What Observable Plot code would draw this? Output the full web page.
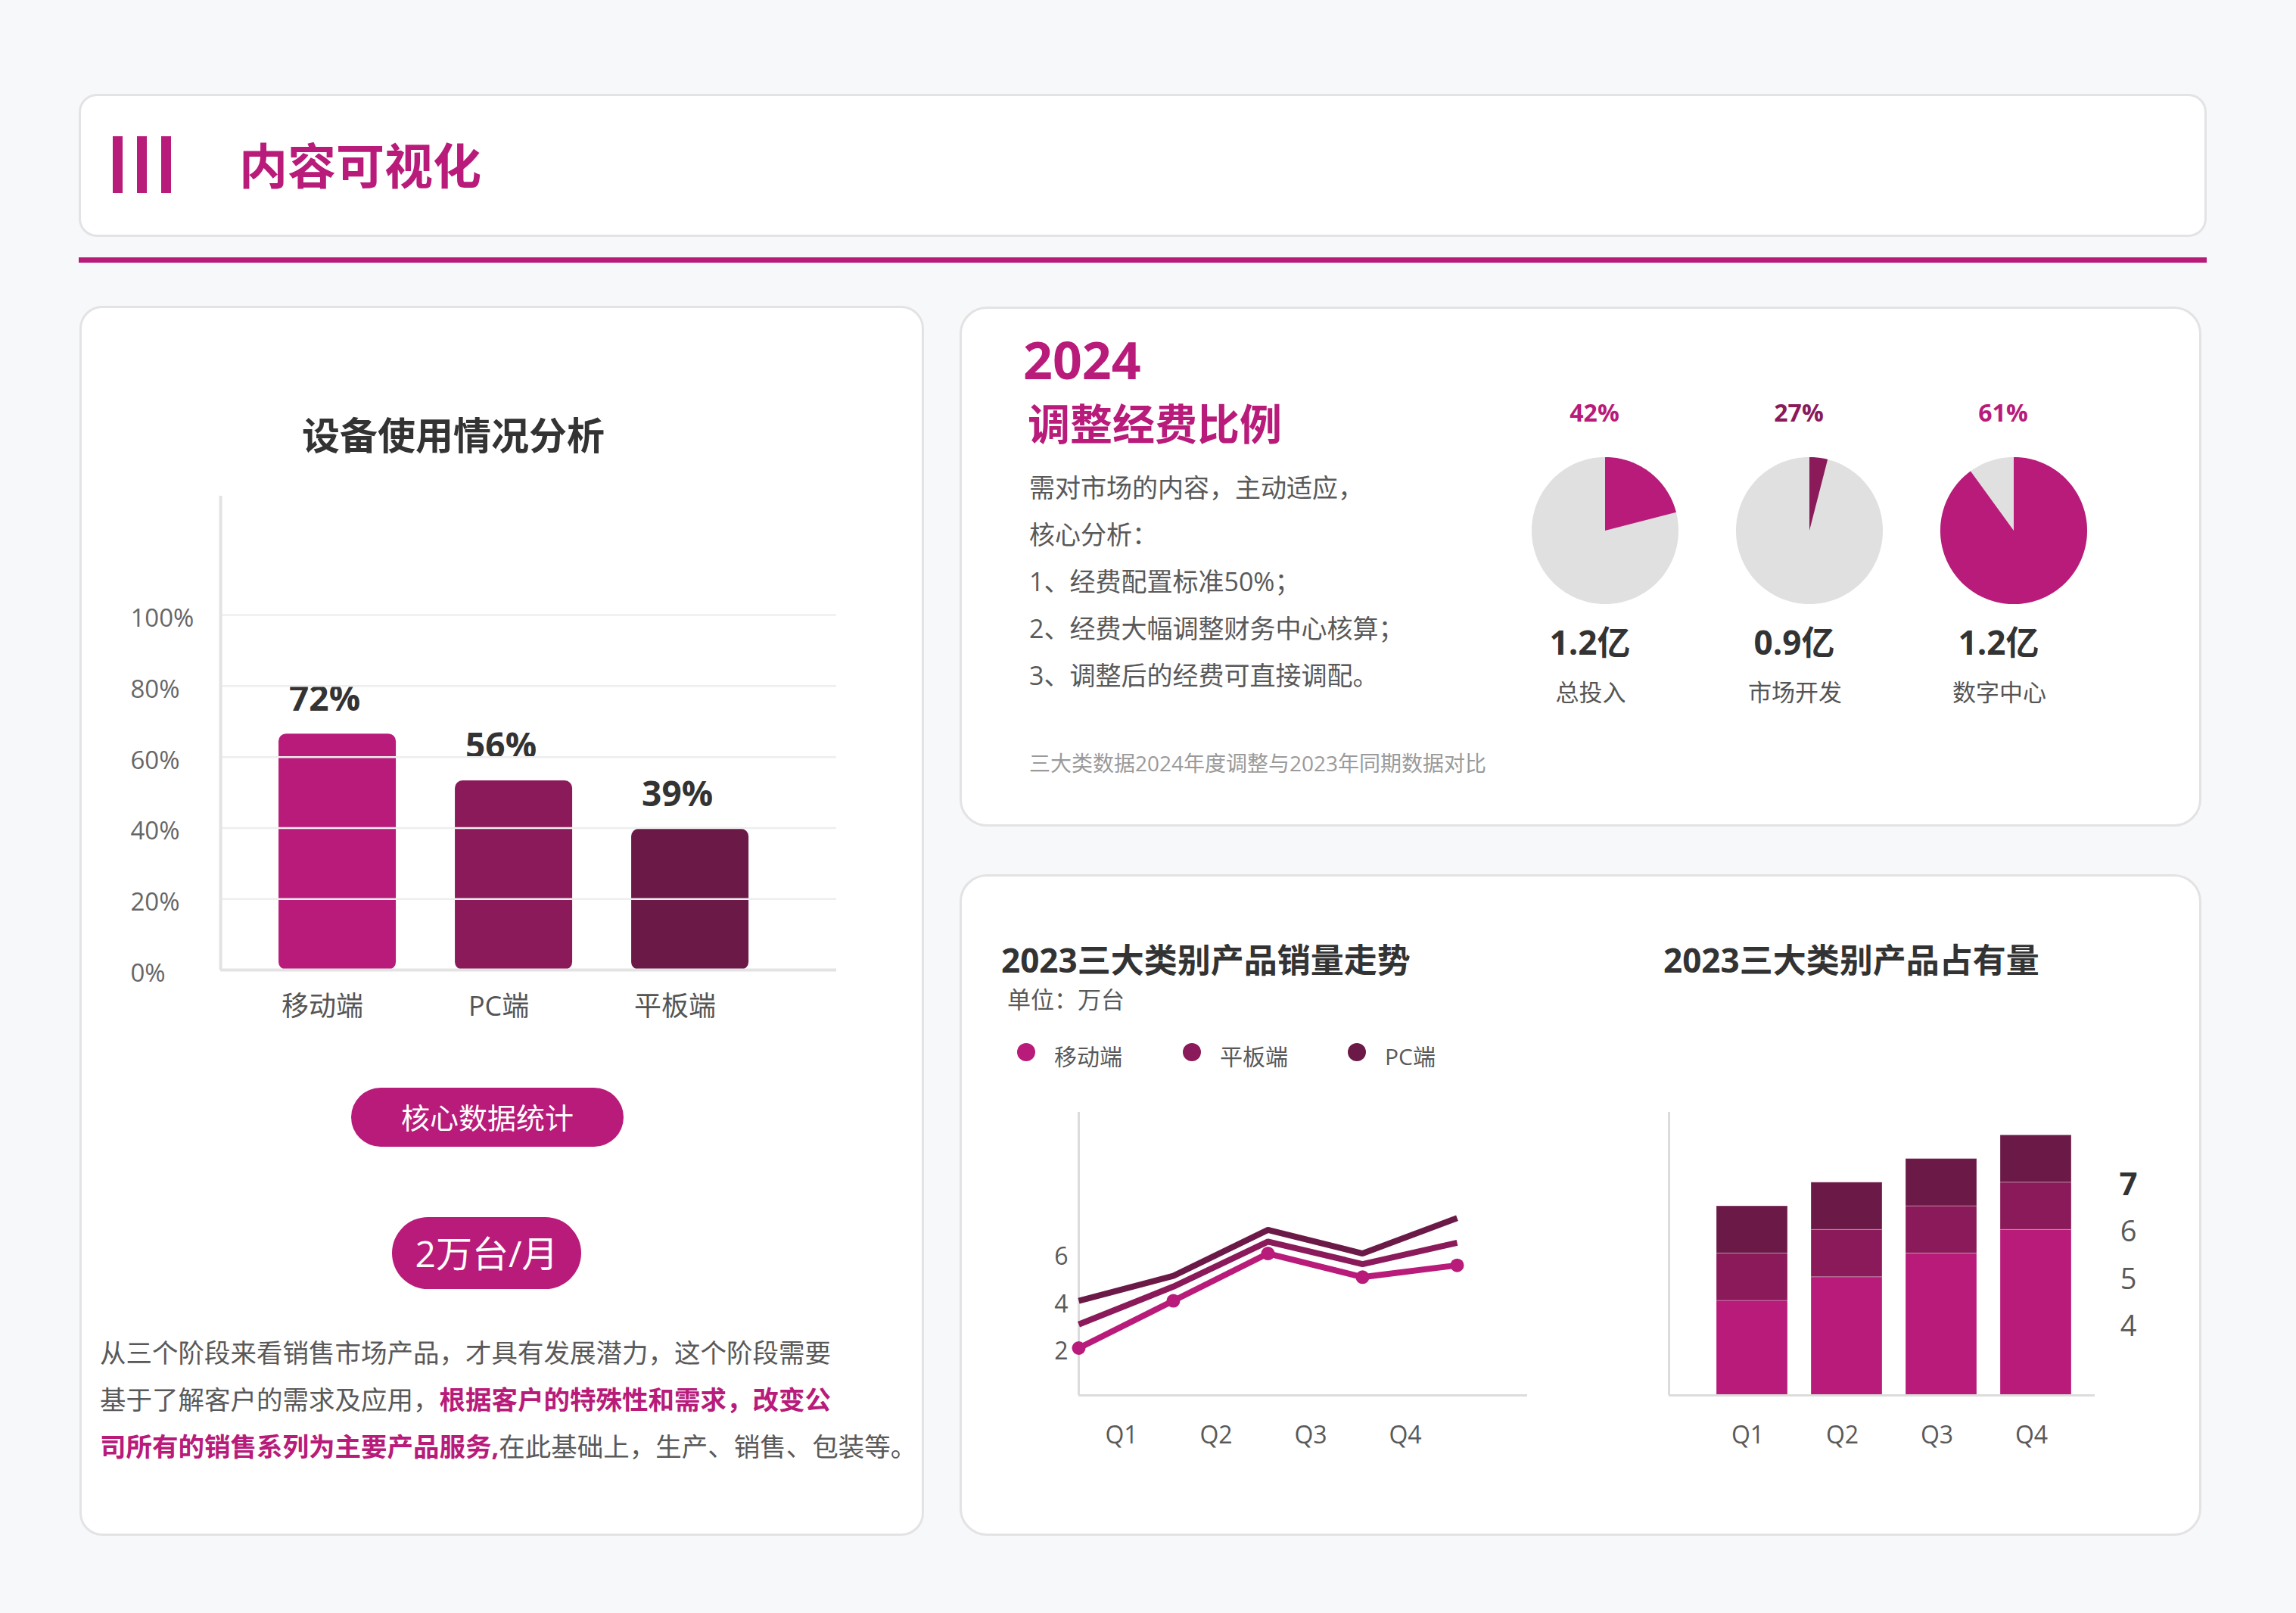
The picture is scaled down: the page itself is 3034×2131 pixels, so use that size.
<!DOCTYPE html>
<html><head><meta charset="utf-8">
<script src="https://cdn.jsdelivr.net/npm/d3@7"></script>
<script src="https://cdn.jsdelivr.net/npm/@observablehq/plot@0.6"></script>
<style>
html,body{margin:0;padding:0;}
body{width:3034px;height:2131px;background:#f7f8fa;position:relative;overflow:hidden;font-family:"Open Sans","Noto Sans CJK SC",sans-serif;color:#333;}
.card{position:absolute;background:#fff;border:3px solid #e3e3e5;box-sizing:border-box;}
.t{position:absolute;white-space:nowrap;line-height:1;}
.pill{position:absolute;background:#B81B7A;color:#fff;display:flex;align-items:center;justify-content:center;line-height:1;white-space:nowrap;}
.plot{position:absolute;}
.plot svg{overflow:visible;}
.dot{position:absolute;width:24px;height:24px;border-radius:50%;}
.hl{color:#B81B7A;font-weight:700;}
</style></head><body>

<div class="card" style="left:104px;top:124px;width:2812px;height:189px;border-radius:24px;"></div>
<div style="position:absolute;left:149px;top:180px;width:13px;height:75px;background:#B81B7A"></div>
<div style="position:absolute;left:181px;top:180px;width:13px;height:75px;background:#B81B7A"></div>
<div style="position:absolute;left:213px;top:180px;width:13px;height:75px;background:#B81B7A"></div>
<div class="t" style="left:316px;top:187px;font-size:64px;font-weight:700;color:#B81B7A;">内容可视化</div>
<div style="position:absolute;left:104px;top:340px;width:2812px;height:7px;background:#B81B7A"></div>

<div class="card" style="left:105px;top:404px;width:1116px;height:1625px;border-radius:30px;"></div>
<div class="card" style="left:1268px;top:405px;width:1641px;height:687px;border-radius:36px;"></div>
<div class="card" style="left:1268px;top:1155px;width:1641px;height:874px;border-radius:36px;"></div>

<div class="t" style="left:199px;width:800px;text-align:center;top:550px;font-size:50px;font-weight:700;color:#333;">设备使用情况分析</div>
<div id="plotA" class="plot" style="left:172px;top:595px;"></div>
<div class="pill" style="left:464px;top:1437px;width:360px;height:78px;border-radius:39px;font-size:38px;">核心数据统计</div>
<div class="pill" style="left:518px;top:1608px;width:250px;height:95px;border-radius:48px;font-size:48px;">2万台/月</div>
<div style="position:absolute;left:132px;top:1756px;font-size:34.5px;line-height:62px;color:#595959;white-space:nowrap;">从三个阶段来看销售市场产品，才具有发展潜力，这个阶段需要<br>基于了解客户的需求及应用，<span class="hl">根据客户的特殊性和需求，改变公</span><br><span class="hl">司所有的销售系列为主要产品服务,</span>在此基础上，生产、销售、包装等。</div>

<div class="t" style="left:1352px;top:441px;font-size:68px;font-weight:700;color:#B81B7A;">2024</div>
<div class="t" style="left:1358px;top:531px;font-size:56px;font-weight:700;color:#B81B7A;">调整经费比例</div>
<div style="position:absolute;left:1360px;top:613px;font-size:34px;line-height:62px;color:#595959;white-space:nowrap;">需对市场的内容，主动适应，<br>核心分析：<br>1、经费配置标准50%；<br>2、经费大幅调整财务中心核算；<br>3、调整后的经费可直接调配。</div>
<div class="t" style="left:1360px;top:994px;font-size:28px;color:#9a9a9a;">三大类数据2024年度调整与2023年同期数据对比</div>
<div id="plotB" class="plot" style="left:1975px;top:516px;"></div>

<div class="t" style="left:1323px;top:1246px;font-size:44px;font-weight:700;color:#333;">2023三大类别产品销量走势</div>
<div class="t" style="left:1331px;top:1305px;font-size:31px;color:#595959;">单位：万台</div>
<div id="legend"></div>
<div id="plotC" class="plot" style="left:1380px;top:1449px;"></div>
<div class="t" style="left:2198px;top:1246px;font-size:44px;font-weight:700;color:#333;">2023三大类别产品占有量</div>
<div id="plotD" class="plot" style="left:2205px;top:1449px;"></div>

<script>
// ---------- data ----------
const deviceCategories = ["移动端", "PC端", "平板端"];
const deviceShare = [66.5, 53.3, 39.7];          // bar heights as drawn
const deviceLabels = ["72%", "56%", "39%"];       // printed labels
const shareTicks = [0, 20, 40, 60, 80, 100];

const budgetCategories = ["总投入", "市场开发", "数字中心"];
const budgetShare = [21, 4, 90];                  // slice sizes as drawn
const budgetPercentLabels = ["42%", "27%", "61%"];
const budgetAmounts = ["1.2亿", "0.9亿", "1.2亿"];

const quarters = ["Q1", "Q2", "Q3", "Q4"];
const seriesNames = ["移动端", "平板端", "PC端"];
const salesMobile = [2.0, 4.0, 6.0, 5.0, 5.5];
const salesTablet = [3.0, 4.6, 6.5, 5.55, 6.45];
const salesPC = [4.0, 5.05, 7.0, 6.0, 7.5];
const salesTicks = [2, 4, 6];

const holdMobile = [4, 5, 6, 7];
const holdTablet = [2, 2, 2, 2];
const holdPC = [2, 2, 2, 2];
const holdSideLabels = [4, 5, 6, 7];

// ---------- styles ----------
const MAG = "#B81B7A", MID = "#8A1A59", DARK = "#6B1A48";
const FONT = '"Open Sans","Noto Sans CJK SC",sans-serif';
const baseStyle = {background: "transparent", fontFamily: FONT, overflow: "visible"};

// ---------- A: device bars ----------
const devData = deviceCategories.map((c, i) => ({cat: c, i, v: deviceShare[i], label: deviceLabels[i]}));
const A = Plot.plot({
  width: 943, height: 766, marginLeft: 0, marginRight: 10, marginTop: 60, marginBottom: 80,
  x: {domain: [-0.674, 3.33], axis: null},
  y: {domain: [0, 133.5], axis: null},
  color: {domain: deviceCategories, range: [MAG, MID, DARK]},
  style: baseStyle,
  marks: [
    Plot.rectY(devData, {x1: "i", x2: d => d.i + 1, y: "v", fill: "cat", insetLeft: 39, insetRight: 39, rx: 10}),
    Plot.text(devData, {x: d => d.i + 0.5, y: "v", text: "label", dx: -17, dy: -45, fontSize: 46, fontWeight: 700, fill: "#333"}),
    Plot.ruleY(shareTicks.filter(d => d > 0), {x1: -0.163, x2: 3.33, stroke: "#eeeeee", strokeWidth: 2.5}),
    Plot.ruleX([-0.163], {y1: 0, y2: 133.5, stroke: "#e3e3e3", strokeWidth: 4}),
    Plot.ruleY([0], {x1: -0.163, x2: 3.33, stroke: "#e3e3e3", strokeWidth: 4}),
    Plot.text(shareTicks, {x: -0.674, y: d => d, text: d => d + "%", textAnchor: "start", dy: 5, fontSize: 33, fill: "#666"}),
    Plot.text(devData, {x: d => d.i + 0.5, y: 0, text: "cat", dx: -20, dy: 49, fontSize: 36, fill: "#555"})
  ]
});
document.getElementById("plotA").appendChild(A);

// ---------- B: pies ----------
const SP = 2.7835;
const pieColors = [MAG, MID, MAG];
const piePts = [];
const N = 240;
budgetShare.forEach((v, i) => {
  const cx = i * SP;
  for (let k = 0; k <= N; k++) {
    const a = 2 * Math.PI * k / N;
    piePts.push({key: "bg" + i, color: "#e0e0e0", x: cx + Math.sin(a), y: Math.cos(a)});
  }
  const arc = d3.pie().sort(null)([v, 100 - v])[0];
  const n = Math.max(2, Math.ceil((arc.endAngle - arc.startAngle) / (2 * Math.PI) * N));
  piePts.push({key: "s" + i, color: pieColors[i], x: cx, y: 0});
  for (let k = 0; k <= n; k++) {
    const a = arc.startAngle + (arc.endAngle - arc.startAngle) * k / n;
    piePts.push({key: "s" + i, color: pieColors[i], x: cx + Math.sin(a), y: Math.cos(a)});
  }
});
const budgetData = budgetCategories.map((c, i) => ({c, x: i * SP, pct: budgetPercentLabels[i], amt: budgetAmounts[i], color: pieColors[i]}));
const B = Plot.plot({
  width: 831, height: 437, margin: 0,
  x: {domain: [-1.5, 2 * SP + 1.5], axis: null},
  y: {domain: [-2.6, 1.9], axis: null},
  color: {type: "identity"},
  style: baseStyle,
  marks: [
    Plot.line(piePts, {x: "x", y: "y", z: "key", fill: "color", stroke: "none", curve: "linear"}),
    Plot.text(budgetData, {x: "x", y: 0, text: "pct", fill: "color", dx: -14, dy: -154, fontSize: 32, fontWeight: 700}),
    Plot.text(budgetData, {x: "x", y: 0, text: "amt", fill: "#333", dx: -20, dy: 150, fontSize: 44, fontWeight: 700}),
    Plot.text(budgetData, {x: "x", y: 0, text: "c", fill: "#555", dx: -19, dy: 215, fontSize: 31})
  ]
});
document.getElementById("plotB").appendChild(B);

// ---------- legend ----------
const legendColors = [MAG, MID, DARK];
const legendX = [1344, 1563, 1781];
const lg = document.getElementById("legend");
seriesNames.forEach((s, i) => {
  const d = document.createElement("div");
  d.className = "dot"; d.style.left = legendX[i] + "px"; d.style.top = "1378px"; d.style.background = legendColors[i];
  lg.appendChild(d);
  const t = document.createElement("div");
  t.className = "t"; t.textContent = s; t.style.left = (legendX[i] + 49) + "px"; t.style.top = "1381px";
  t.style.fontSize = "30px"; t.style.color = "#595959";
  lg.appendChild(t);
});

// ---------- C: sales lines ----------
const salesSeries = [salesMobile, salesTablet, salesPC];
const lineData = seriesNames.flatMap((s, si) => salesSeries[si].map((v, i) => ({s, i, v})));
const C = Plot.plot({
  width: 638, height: 474, marginLeft: 0, marginRight: 0, marginTop: 20, marginBottom: 80,
  x: {domain: [-0.36, 4.744], axis: null},
  y: {domain: [0, 11.97], axis: null},
  color: {domain: seriesNames, range: [MAG, MID, DARK]},
  style: baseStyle,
  marks: [
    Plot.ruleX([0], {y1: 0, y2: 11.97, stroke: "#dcdcdc", strokeWidth: 3}),
    Plot.ruleY([0], {x1: 0, x2: 4.744, stroke: "#dcdcdc", strokeWidth: 3}),
    Plot.line(lineData, {x: "i", y: "v", z: "s", stroke: "s", strokeWidth: 8, strokeLinecap: "butt", strokeLinejoin: "miter"}),
    Plot.dot(lineData.filter(d => d.s === seriesNames[0]), {x: "i", y: "v", r: 9, fill: "s"}),
    Plot.text(salesTicks, {x: -0.184, y: d => d, text: d => String(d), dy: 5, fontSize: 32, fill: "#595959"}),
    Plot.text(quarters, {x: (d, i) => i + 0.5, y: 0, text: d => d, dx: -6, dy: 53, fontSize: 32, fill: "#595959"})
  ]
});
document.getElementById("plotC").appendChild(C);

// ---------- D: stacked bars ----------
const holdSeries = [holdMobile, holdTablet, holdPC];
const holdData = seriesNames.flatMap((s, si) => holdSeries[si].map((v, i) => ({s, i, v})));
const sideMax = d3.max(holdSideLabels);
const sideToY = v => 2 * v - 5.1; // secondary label scale
const D = Plot.plot({
  width: 645, height: 474, marginLeft: 0, marginRight: 0, marginTop: 20, marginBottom: 80,
  x: {domain: [-0.38, 4.78], axis: null},
  y: {domain: [0, 11.97], axis: null},
  color: {domain: seriesNames, range: [MAG, MID, DARK]},
  style: baseStyle,
  marks: [
    Plot.rectY(holdData, {x1: "i", x2: d => d.i + 1, y: "v", fill: "s", insetLeft: 15.5, insetRight: 15.5, stroke: "#ffffff", strokeOpacity: 0.3, strokeWidth: 1}),
    Plot.ruleX([-0.38], {y1: 0, y2: 11.97, stroke: "#dcdcdc", strokeWidth: 3}),
    Plot.ruleY([0], {x1: -0.38, x2: 4.124, stroke: "#dcdcdc", strokeWidth: 3}),
    Plot.text(quarters, {x: (d, i) => i + 0.5, y: 0, text: d => d, dx: -6, dy: 53, fontSize: 32, fill: "#595959"}),
    Plot.text(holdSideLabels.filter(d => d !== sideMax), {x: 4.476, y: sideToY, text: d => String(d), fontSize: 38, fill: "#595959"}),
    Plot.text([sideMax], {x: 4.476, y: sideToY, text: d => String(d), fontSize: 42, fontWeight: 700, fill: "#333"})
  ]
});
document.getElementById("plotD").appendChild(D);
</script>
</body></html>
